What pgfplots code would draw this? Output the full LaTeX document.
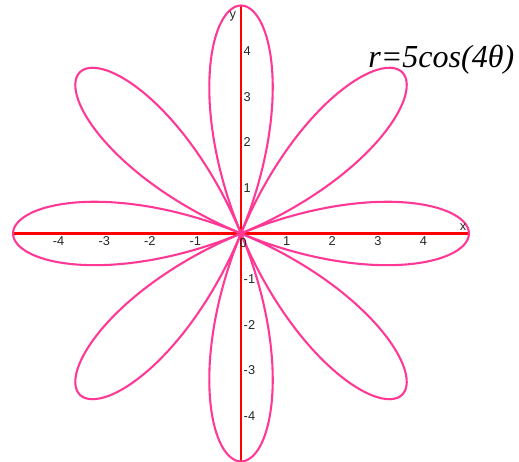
\documentclass[border=0pt]{standalone}
\usepackage{fontspec}
\setmainfont{Liberation Serif}
\setsansfont{Liberation Sans}
\usepackage{pgfplots}
\usepackage{pgfplotstable}
\pgfplotsset{compat=1.18}

\definecolor{roseline}{RGB}{255,56,150}

% One petal of r = 5 cos(4 theta): angle (deg) and radius
\pgfplotstableread{
a      r
-22.5  0
-21    0.52264
-19.5  1.03956
-18    1.54508
-16.5  2.03368
-15    2.5
-13.5  2.93893
-12    3.34565
-10.5  3.71572
-9     4.04508
-7.5   4.33013
-6     4.56773
-4.5   4.75528
-3     4.89074
-1.5   4.97261
0      5
1.5    4.97261
3      4.89074
4.5    4.75528
6      4.56773
7.5    4.33013
9      4.04508
10.5   3.71572
12     3.34565
13.5   2.93893
15     2.5
16.5   2.03368
18     1.54508
19.5   1.03956
21     0.52264
22.5   0
}\petal

\begin{document}
\begin{tikzpicture}
\begin{axis}[
  x=1cm, y=1cm,
  xmin=-5, xmax=5, ymin=-5.01, ymax=5,
  axis lines=none,
  clip=false,
  xtick=\empty, ytick=\empty,
]
% coordinate axes
\addplot[red, line width=1.4pt, no marks] coordinates {(-5,0) (4.97,0)};
\addplot[red, line width=1.3pt, no marks] coordinates {(0,-5.01) (0,4.99)};
% the rose, one petal every 45 degrees
\pgfplotsinvokeforeach{0,1,...,7}{
  \addplot[roseline, line width=1.3pt, smooth, data cs=polar, no marks]
    table[x expr=\thisrow{a}+45*#1, y=r]{\petal};
}
% tick labels
\pgfplotsinvokeforeach{-4,-3,-2,-1,1,2,3,4}{
  \node[anchor=north, inner sep=1.5pt, font=\sffamily\fontsize{8}{9}\selectfont, text=black!85] at (axis cs:#1,0) {#1};
  \node[anchor=west, inner sep=1.5pt, font=\sffamily\fontsize{8}{9}\selectfont, text=black!85] at (axis cs:0,#1) {#1};
}
\node[font=\sffamily\fontsize{8}{9}\selectfont, text=black!85] at (axis cs:0.05,-0.21) {0};
\node[font=\sffamily\fontsize{8}{9}\selectfont, text=black!85] at (axis cs:4.87,0.15) {x};
\node[font=\sffamily\fontsize{8}{9}\selectfont, text=black!85] at (axis cs:-0.18,4.76) {y};
\node[anchor=base west, inner sep=0pt, font=\fontsize{20}{24}\selectfont\itshape] at (axis cs:2.785,3.65) {r=5cos(4θ)};
\coordinate (bl) at (axis cs:-5.285,-5.01);
\coordinate (tr) at (axis cs:6.096,5.12);
\end{axis}
\pgfresetboundingbox
\path[use as bounding box] (bl) rectangle (tr);
\end{tikzpicture}
\end{document}
